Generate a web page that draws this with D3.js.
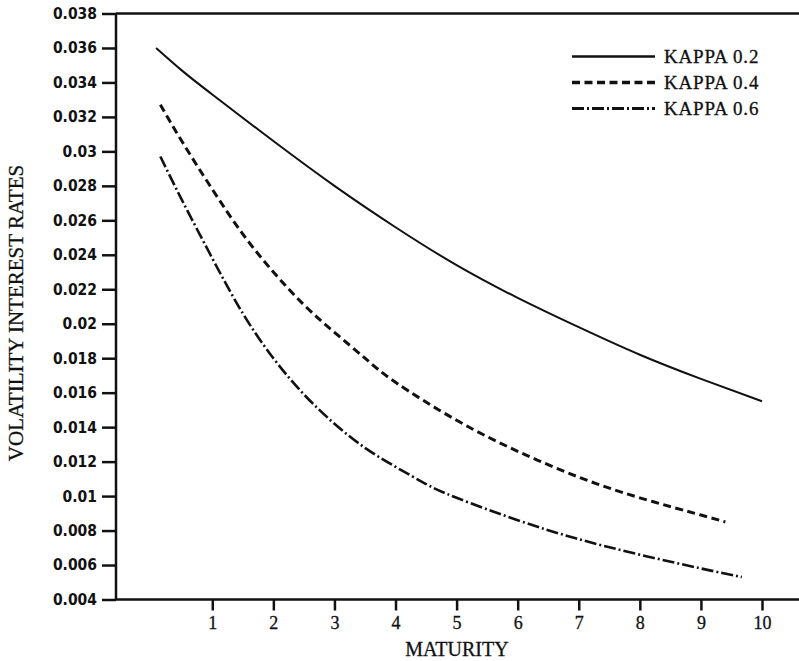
<!DOCTYPE html>
<html lang="en">
<head>
<meta charset="UTF-8">
<title>Volatility of interest rates by maturity</title>
<script src="https://d3js.org/d3.v7.min.js"></script>
<style>
  body { margin: 0; background: #fff; }
  .y-axis text { font: bold 15.5px "DejaVu Sans Condensed", "DejaVu Sans", sans-serif; font-stretch: condensed; fill: #111; }
  .x-axis text { font: 18px "Liberation Serif", serif; fill: #111; stroke: #111; stroke-width: 0.3; }
  .axis line { stroke: #111; stroke-width: 2.5; }
  .frame { stroke: #111; stroke-width: 2.5; }
  .curve { fill: none; stroke: #111; }
  .legend text { font: 19px "Liberation Serif", serif; letter-spacing: 0.8px; fill: #111; stroke: #111; stroke-width: 0.3; }
  .title { font: 20px "Liberation Serif", serif; fill: #111; stroke: #111; stroke-width: 0.3; }
</style>
</head>
<body>
<div id="chart"></div>
<script>
// maturities and values
var solidMat  = [0.08, 0.5, 1, 2, 3, 4, 5, 6, 7, 8, 9, 10];
var kappa02   = [0.0360, 0.0347, 0.0333, 0.0306, 0.0280, 0.0256, 0.0234, 0.0215, 0.0198, 0.0182, 0.0168, 0.0155];

var dashMat   = [0.15, 0.5, 1, 1.5, 2, 2.5, 3, 3.5, 4, 5, 6, 7, 8, 9, 9.4];
var kappa04   = [0.0327, 0.0306, 0.0278, 0.0252, 0.0230, 0.0211, 0.0195, 0.0180, 0.0166, 0.0144, 0.0126, 0.0111, 0.0099, 0.0089, 0.0085];

var dotMat    = [0.15, 0.5, 1, 1.5, 2, 2.5, 3, 3.5, 4, 4.5, 5, 6, 7, 8, 9, 9.67];
var kappa06   = [0.0297, 0.0272, 0.0238, 0.0206, 0.0180, 0.0159, 0.0142, 0.0128, 0.0117, 0.0107, 0.0099, 0.0086, 0.0075, 0.0066, 0.0058, 0.0053];

var xTicks = [1, 2, 3, 4, 5, 6, 7, 8, 9, 10];
var yTicks = [0.004, 0.006, 0.008, 0.01, 0.012, 0.014, 0.016, 0.018, 0.02, 0.022, 0.024, 0.026, 0.028, 0.03, 0.032, 0.034, 0.036, 0.038];
var seriesNames = ["KAPPA 0.2", "KAPPA 0.4", "KAPPA 0.6"];

var width = 799, height = 661;
var left = 116, right = 799;

var svg = d3.select("#chart").append("svg")
    .attr("width", width)
    .attr("height", height);

var x = d3.scaleLinear().domain([0, 10]).range([151.2, 762]);
var y = d3.scaleLinear().domain([0.004, 0.038]).range([599.5, 13.5]);

// axes
svg.append("g")
    .attr("class", "axis y-axis")
    .attr("transform", "translate(" + left + ",0)")
    .call(d3.axisLeft(y).tickValues(yTicks).tickSize(14).tickPadding(5).tickFormat(function(d) { return String(d); }))
    .call(function(g) { g.select(".domain").remove(); });

svg.append("g")
    .attr("class", "axis x-axis")
    .attr("transform", "translate(0," + y(0.004) + ")")
    .call(d3.axisBottom(x).tickValues(xTicks).tickSize(11).tickPadding(6))
    .call(function(g) { g.select(".domain").remove(); });

// frame lines
svg.append("line").attr("class", "frame")
    .attr("x1", left).attr("x2", left).attr("y1", y(0.038)).attr("y2", y(0.004));
svg.append("line").attr("class", "frame")
    .attr("x1", left).attr("x2", right).attr("y1", y(0.038)).attr("y2", y(0.038));
svg.append("line").attr("class", "frame")
    .attr("x1", left).attr("x2", right).attr("y1", y(0.004)).attr("y2", y(0.004));

var line = d3.line()
    .x(function(d) { return x(d[0]); })
    .y(function(d) { return y(d[1]); })
    .curve(d3.curveNatural);

var series = [
  { name: seriesNames[0], data: d3.zip(solidMat, kappa02), dash: null, w: 2 },
  { name: seriesNames[1], data: d3.zip(dashMat, kappa04), dash: "8,4.5", w: 3 },
  { name: seriesNames[2], data: d3.zip(dotMat, kappa06), dash: "12,3,2,3", w: 2.6 }
];

svg.selectAll(".curve")
  .data(series)
  .enter().append("path")
    .attr("class", "curve")
    .attr("d", function(d) { return line(d.data); })
    .attr("stroke-width", function(d) { return d.w; })
    .attr("stroke-dasharray", function(d) { return d.dash; });

// legend
var legend = svg.append("g").attr("class", "legend");
var item = legend.selectAll("g")
  .data(series)
  .enter().append("g")
    .attr("transform", function(d, i) { return "translate(572," + (56.5 + i * 26) + ")"; });

item.append("line")
    .attr("class", "curve")
    .attr("x1", 0).attr("x2", 83)
    .attr("stroke-width", function(d) { return d.w + 0.6; })
    .attr("stroke-dasharray", function(d) { return d.dash; });

item.append("text")
    .attr("x", 92)
    .attr("dy", "0.33em")
    .text(function(d) { return d.name; });

// axis titles
svg.append("text")
    .attr("class", "title")
    .attr("x", 457)
    .attr("y", 656)
    .attr("text-anchor", "middle")
    .text("MATURITY");

svg.append("text")
    .attr("class", "title")
    .attr("transform", "translate(23,313) rotate(-90)")
    .attr("text-anchor", "middle")
    .style("font-size", "21px")
    .text("VOLATILITY INTEREST RATES");
</script>
</body>
</html>
